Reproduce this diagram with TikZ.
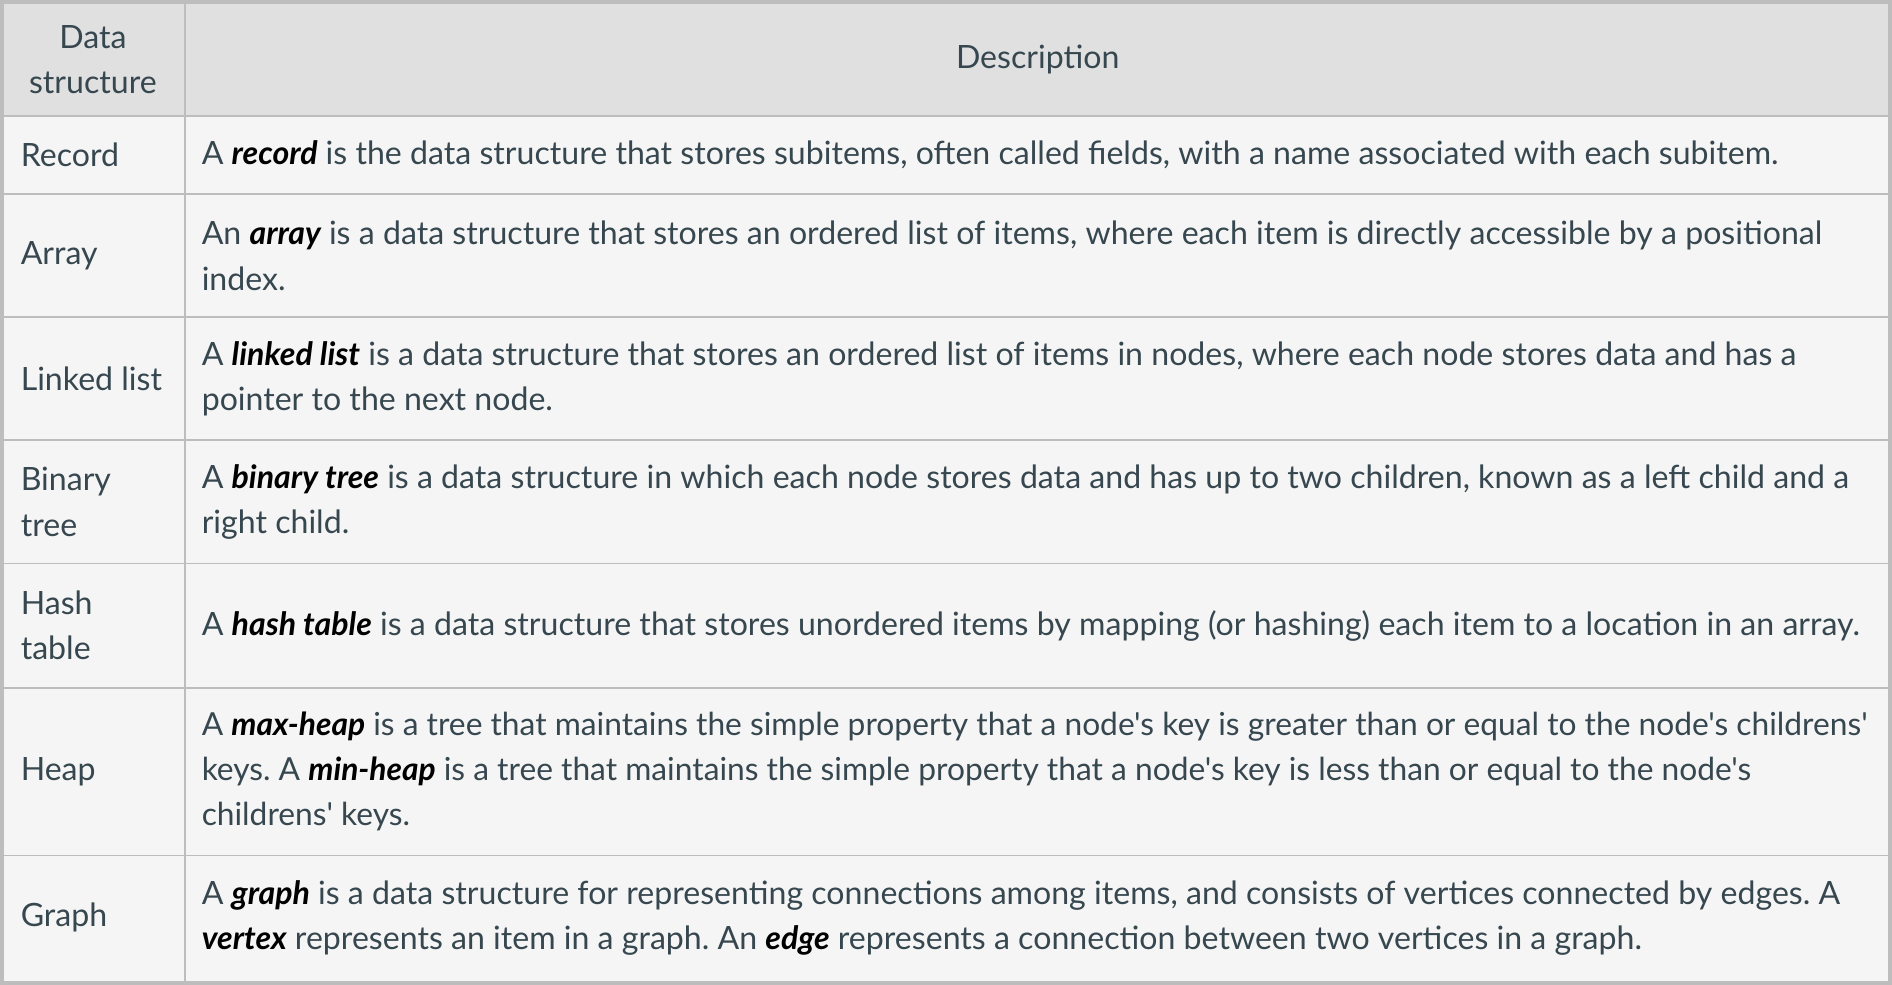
\documentclass[tikz,border=0pt]{standalone}
\usepackage{fontspec}
\setmainfont{Lato}[Ligatures=TeXOff]
\usepackage{tikz}
\definecolor{inkgray}{HTML}{37474F}
\definecolor{headgray}{HTML}{E0E0E0}
\definecolor{bodygray}{HTML}{F5F5F5}
\definecolor{rulegray}{HTML}{BDBDBD}
\newcommand{\term}[1]{{\color{black}\bfseries\itshape #1}}
\frenchspacing
\tikzset{
    celltext/.style={inkgray, font=\fontsize{26.6}{37.5}\selectfont, inner sep=0pt},
    headtext/.style={celltext, align=center},
    dsname/.style={celltext, align=left, anchor=west},
    desc/.style={celltext, align=left, anchor=west},
    tablerule/.style={rulegray, line width=1.6pt},
    tableframe/.style={rulegray, line width=3.3pt},
}
\begin{document}
\begin{tikzpicture}[x=1pt, y=-1pt]
    \useasboundingbox (0,0) rectangle (1568,816);
    \fill[headgray] (0,0) rectangle (1568,96);
    \fill[bodygray] (0,96) rectangle (1568,816);
    \foreach \y in {96,161,263,365,467,570,709} \draw[tablerule] (0,\y) -- (1568,\y);
    \draw[tablerule] (153,0) -- (153,816);
    \draw[tableframe] (1.65,1.65) rectangle (1566.35,814.35);
    % header
    \node[headtext] (hname) at (77,49.5) {Data\\structure};
    \node[headtext] (hdesc) at (860,49.5) {Description};
    % first column
    \foreach \n/\t/\y in {record/Record/128.5, array/Array/212, list/{Linked list}/314,
        tree/{Binary\\tree}/416, hash/{Hash\\table}/518.5, heap/Heap/639.5, graph/Graph/760.5}
        \node[dsname] (n\n) at (17,\y) {\t};
    % descriptions
    \node[desc] (drecord) at (167,128.5) {A \term{record} is the data structure that stores subitems, often called fields, with a name associated with each subitem.};
    \node[desc] (darray) at (167,212) {An \term{array} is a data structure that stores an ordered list of items, where each item is directly accessible by a positional\\index.};
    \node[desc] (dlist) at (167,314) {A \term{linked list} is a data structure that stores an ordered list of items in nodes, where each node stores data and has a\\pointer to the next node.};
    \node[desc] (dtree) at (167,416) {A \term{binary tree} is a data structure in which each node stores data and has up to two children, known as a left child and a\\right child.};
    \node[desc] (dhash) at (167,518.5) {A \term{hash table} is a data structure that stores unordered items by mapping (or hashing) each item to a location in an array.};
    \node[desc, font=\fontsize{26.3}{37.5}\selectfont] (dheap) at (167,639.5) {A \term{max-heap} is a tree that maintains the simple property that a node's key is greater than or equal to the node's childrens'\\keys. A \term{min-heap} is a tree that maintains the simple property that a node's key is less than or equal to the node's\\childrens' keys.};
    \node[desc] (dgraph) at (167,760.5) {A \term{graph} is a data structure for representing connections among items, and consists of vertices connected by edges. A\\\term{vertex} represents an item in a graph. An \term{edge} represents a connection between two vertices in a graph.};
\end{tikzpicture}
\end{document}
